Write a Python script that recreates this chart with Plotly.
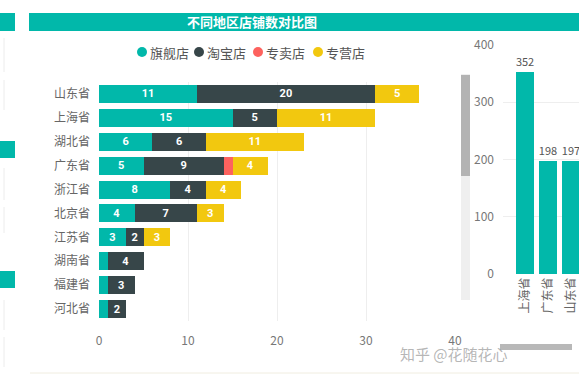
import plotly.graph_objects as go

W, H = 579, 377

# ---------------- data ----------------
provinces = ["山东省", "上海省", "湖北省", "广东省", "浙江省", "北京省", "江苏省", "湖南省", "福建省", "河北省"]
flagship = [11, 15, 6, 5, 8, 4, 3, 1, 1, 1]      # 旗舰店
taobao = [20, 5, 6, 9, 4, 7, 2, 4, 3, 2]         # 淘宝店
exclusive = [0, 0, 0, 1, 0, 0, 0, 0, 0, 0]       # 专卖店
franchise = [5, 11, 11, 4, 4, 3, 3, 0, 0, 0]     # 专营店
series_names = ["旗舰店", "淘宝店", "专卖店", "专营店"]
x_ticks = [0, 10, 20, 30, 40]

side_cats = ["上海省", "广东省", "山东省"]
side_vals = [352, 198, 197]
side_ticks = [0, 100, 200, 300, 400]

title = "不同地区店铺数对比图"
watermark = "知乎 @花随花心"

colors = ["#01B8AA", "#374649", "#FD625E", "#F2C80F"]
FONT = "Segoe UI, Noto Sans CJK SC, sans-serif"


def px(x):
    return x / W


def py(y):
    return 1 - y / H


def label(vals):
    return [str(v) if v >= 2 else "" for v in vals]


fig = go.Figure()
for name, vals, col in zip(series_names, [flagship, taobao, exclusive, franchise], colors):
    fig.add_trace(go.Bar(
        y=provinces, x=vals, name=name, orientation="h",
        marker=dict(color=col, line=dict(width=0)),
        text=label(vals), textposition="inside", insidetextanchor="middle",
        textangle=0,
        textfont=dict(family="Roboto, sans-serif", size=11, color="white", weight="bold"),
        xaxis="x", yaxis="y", showlegend=False, hoverinfo="skip",
    ))

fig.add_trace(go.Bar(
    x=side_cats, y=side_vals, marker=dict(color=colors[0], line=dict(width=0)),
    text=[str(v) for v in side_vals], textposition="outside",
    textfont=dict(family=FONT, size=11, color="#555"),
    cliponaxis=False, xaxis="x2", yaxis="y2", showlegend=False, hoverinfo="skip",
))

shapes = []
annotations = []

# title banner
shapes.append(dict(type="rect", xref="paper", yref="paper", x0=px(29), x1=px(579), y0=py(31), y1=py(13),
                   fillcolor="#01B8AA", line=dict(width=0), layer="below"))
shapes.append(dict(type="rect", xref="paper", yref="paper", x0=px(0), x1=px(15), y0=py(31), y1=py(13),
                   fillcolor="#01B8AA", line=dict(width=0), layer="below"))
for y0, y1 in [(141, 158), (271, 288)]:
    shapes.append(dict(type="rect", xref="paper", yref="paper", x0=px(0), x1=px(15), y0=py(y1), y1=py(y0),
                       fillcolor="#01B8AA", line=dict(width=0), layer="below"))
for y0, y1 in [(38, 72), (80, 110), (168, 200), (207, 233), (300, 330), (337, 367)]:
    shapes.append(dict(type="line", xref="paper", yref="paper", x0=px(4), x1=px(4), y0=py(y1), y1=py(y0),
                       line=dict(color="#ececec", width=1)))
annotations.append(dict(text=title, xref="paper", yref="paper", x=px(252), y=py(22), showarrow=False,
                        font=dict(family=FONT, size=13, color="white", weight="bold"),
                        xanchor="center", yanchor="middle"))

# manual legend (circles)
legend_pos = [142, 199, 258, 318]
for name, col, lx in zip(series_names, colors, legend_pos):
    shapes.append(dict(type="circle", xref="paper", yref="paper", x0=px(lx - 5), x1=px(lx + 5),
                       y0=py(57), y1=py(47), fillcolor=col, line=dict(width=0)))
    annotations.append(dict(text=name, xref="paper", yref="paper", x=px(lx + 6), y=py(52), showarrow=False,
                            font=dict(family=FONT, size=13, color="#555"), xanchor="left", yanchor="middle"))

# vertical scrollbar of main chart
shapes.append(dict(type="rect", xref="paper", yref="paper", x0=px(461), x1=px(470), y0=py(300), y1=py(74),
                   fillcolor="#efefef", line=dict(width=0)))
shapes.append(dict(type="rect", xref="paper", yref="paper", x0=px(461), x1=px(470), y0=py(176), y1=py(75),
                   fillcolor="#b3b3b3", line=dict(width=0)))

# horizontal scrollbar right chart
shapes.append(dict(type="rect", xref="paper", yref="paper", x0=px(500), x1=px(572), y0=py(350), y1=py(344),
                   fillcolor="#b8b8b8", line=dict(width=0)))
# bottom faint line
shapes.append(dict(type="line", xref="paper", yref="paper", x0=px(30), x1=px(579), y0=py(373), y1=py(373),
                   line=dict(color="#f0ede0", width=1)))

annotations.append(dict(text=watermark, xref="paper", yref="paper", x=px(454), y=py(353), showarrow=False,
                        font=dict(family=FONT, size=15, color="rgba(150,150,150,0.7)"),
                        xanchor="center", yanchor="middle"))

fig.update_layout(
    width=W, height=H, margin=dict(l=0, r=0, t=0, b=0, pad=0, autoexpand=False),
    paper_bgcolor="white", plot_bgcolor="rgba(0,0,0,0)",
    barmode="stack", bargap=0.25,
    font=dict(family=FONT, color="#666"),
    uniformtext=dict(minsize=11, mode="show"),
    xaxis=dict(domain=[px(99), px(455)], range=[0, 40], tickvals=x_ticks, automargin=False,
               showgrid=True, gridcolor="#eeeeee", gridwidth=1, zeroline=False,
               showline=False, ticks="", tickfont=dict(size=12, color="#777"),
               anchor="y", ticklabelstandoff=11, fixedrange=True),
    yaxis=dict(domain=[py(321), py(82)], autorange="reversed", showgrid=False, showline=False,
               automargin=False,
               ticks="", tickfont=dict(size=12, color="#666"), anchor="x", ticklabelstandoff=8,
               fixedrange=True),
    xaxis2=dict(domain=[px(503), 1], range=[-0.96, 2.35], anchor="y2", showgrid=False, showline=False,
                automargin=False,
                ticks="", tickangle=-90, tickfont=dict(size=12, color="#666"), fixedrange=True),
    yaxis2=dict(domain=[py(274), py(45)], range=[0, 400], tickvals=side_ticks, anchor="x2",
                automargin=False,
                showgrid=True, gridcolor="#eeeeee", zeroline=False, showline=False, ticks="",
                tickfont=dict(size=12, color="#777"), ticklabelstandoff=8, fixedrange=True),
    shapes=shapes, annotations=annotations,
)
fig.update_traces(selector=dict(xaxis="x2"), width=0.78)

fig.write_html("out.html", config={"displayModeBar": False},
               post_script="document.body.style.margin='0px';document.body.style.overflow='hidden';")
